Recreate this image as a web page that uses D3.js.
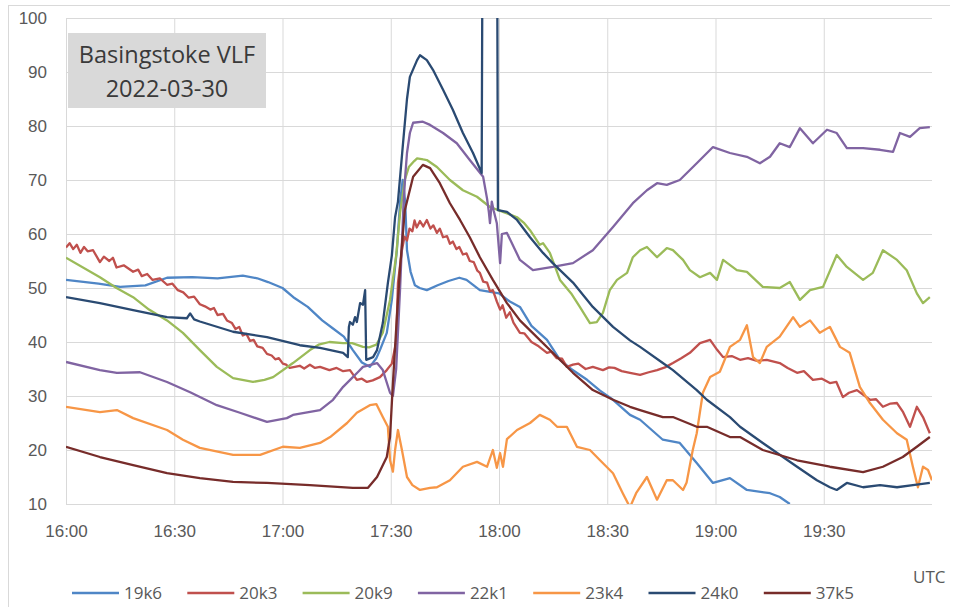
<!DOCTYPE html>
<html lang="en">
<head>
<meta charset="UTF-8">
<title>Basingstoke VLF 2022-03-30</title>
<script src="https://d3js.org/d3.v7.min.js"></script>
<style>
  body { margin: 0; background: #fff; }
  svg { font-family: "Open Sans", Lato, sans-serif; }
  .grid line { stroke: #d9d9d9; stroke-width: 1; }
  .grid path { display: none; }
  .tick text { fill: #595959; font-size: 17px; }
  .series { fill: none; stroke-width: 2.3; stroke-linejoin: round; }
</style>
</head>
<body>
<svg id="chart" width="954" height="607"></svg>
<script>
// minutes after 16:00 UTC, signal value
const s19k6 = [[0,51.5],[9,50.8],[15,50.2],[22,50.5],[28,51.9],[35,52],[42,51.8],[49,52.3],[53,51.8],[56,51.1],[60,50],[63,48.3],[67,46.5],[71,44],[74,42.5],[77,41],[79.5,38.5],[82,36.2],[84.2,35.4],[86,37],[87,38.5],[88.9,41.7],[90.3,47.8],[91.2,53.9],[91.7,57],[92.6,66],[93.3,70],[94,66],[94.5,57],[95.5,53],[96.7,50.5],[98,50],[100,49.6],[103,50.5],[106,51.3],[109,51.9],[111,51.5],[114.7,49.6],[120,49],[123,47.5],[125.8,46.5],[129,43],[133.3,40.4],[136.9,36.7],[140,35],[144.4,33],[148,31],[151.6,29.3],[156.3,26.5],[159.1,25.6],[165.4,21.9],[170.1,21.3],[174.8,17.6],[179.3,13.9],[184,14.8],[188.7,12.6],[195.1,12],[197.8,11.3],[200.6,10]];
const s20k3 = [[0,57.5],[1,58.3],[2,57.2],[3,58],[4,56.5],[5,57.6],[6,56.8],[7.5,57],[9.4,54.8],[10.5,55.8],[12,55],[13,55.6],[14,53.8],[16,54.2],[18.6,53],[20,53.4],[21,52.2],[22.5,52.6],[24,51.5],[26,51.8],[28,50.6],[29.5,50.8],[31,49.6],[32.5,49.2],[34,48.2],[35.5,48.4],[37.1,47],[38.5,46.6],[40,46],[41,46.3],[42,45],[43.5,45.2],[44.6,44],[46,43.5],[47,42.4],[48,42.8],[49,41.2],[50,41.5],[51,40.2],[52,40.4],[53,39.2],[54.5,38.9],[55.7,37.8],[57,37.5],[58,36.8],[59,37],[60.1,36],[61,35.8],[62,35.2],[64.8,35.6],[66,35.1],[67.6,35.8],[69,35.2],[70.4,35.4],[73,34.8],[75,35.2],[76.8,34.6],[78.7,34.8],[80.6,33],[82,33.2],[83.4,32.6],[85,32.9],[87,33.5],[88.9,34.8],[90.3,36],[91.5,40],[92,51],[93.1,57],[93.8,59.5],[94.5,58.8],[95.2,61],[96,60.5],[96.6,62.5],[97.2,61.2],[98.1,62.4],[99,61.4],[100,62.6],[101,61],[101.8,61.6],[102.8,60.2],[103.6,61],[104.5,59.4],[105.6,59.6],[106.4,58.2],[107.2,58.6],[108.2,57.2],[109,57.6],[110,56.2],[111,56.4],[111.9,55],[113,54.8],[114,53.2],[114.7,52.8],[115.6,51.2],[116.7,51],[117.5,49.4],[118.3,49.6],[119.4,47.5],[120.3,46],[121,46.8],[122,44.5],[123,45.5],[124,43.6],[125.8,41.7],[127,41.6],[129,40],[131,39.2],[133.3,38],[134.5,38.2],[136,37],[137.5,36.9],[138.8,35.4],[140.5,35.8],[142,36],[144,35],[146,35.4],[148.8,34.8],[150.5,35.3],[152,35.2],[154,34.6],[156.3,34.3],[159.1,33.9],[161.5,34.4],[163.8,34.8],[166,35.3],[168.2,36.1],[170.5,37],[172.9,38],[175.7,39.8],[178.5,40.4],[180.5,38.5],[182.1,37.2],[184.5,37.4],[186.8,36.7],[189,37],[191.5,36.5],[194.2,36.7],[197.8,36.1],[200,35.2],[202.6,34.3],[204.5,34.6],[207,33],[209.5,33.2],[211.7,32.4],[213.5,32.6],[215.3,29.8],[217,30.6],[219.2,31.1],[222.8,29.3],[224.5,29.4],[226.4,28],[228.5,28.6],[230.3,28.7],[232,27],[233.9,24.3],[235.8,28],[237.5,26.1],[239.4,23.1]];
const s20k9 = [[0,55.6],[9.4,52],[14,50],[18.6,48.3],[23,46],[28,44],[32.4,41.7],[37.1,38.5],[41.8,35.4],[46.3,33.3],[51.8,32.6],[55,33],[57.4,33.5],[62.9,36.1],[67.6,38.5],[70,39.5],[73,40],[76.8,39.8],[79.3,39.8],[82.3,39.1],[84,39],[86,39.5],[87.8,41.7],[89.8,47.8],[91.5,56],[92.6,64],[93.9,70],[95,72.4],[96.5,73.5],[97.3,74],[99,73.8],[100,73.7],[102.8,72.4],[106.4,70],[110,68.1],[113.9,66.9],[117.5,65],[121.1,64.1],[125,63.1],[127,62],[128.6,60.7],[131.3,58],[132.2,58.3],[134.1,56.5],[136.9,51.5],[140,49],[142.4,46.5],[145.2,43.5],[147.1,43.7],[148.8,45.4],[150.7,49.6],[152.7,51.5],[155.5,52.8],[157.1,55.7],[159.1,57],[161,57.6],[163.8,55.7],[166.5,57.4],[168.2,57],[171,55.2],[172.9,53.3],[175.7,52],[178.5,52.8],[180.4,51.5],[182.1,55.2],[185.9,53.3],[188.7,53],[193.1,50.2],[197.8,50],[200.6,51.1],[203.4,47.8],[206.2,49.6],[209.8,50.2],[213.6,56.1],[216.4,53.9],[220.9,51.5],[223.6,52.8],[226.4,57],[230.3,55.2],[233,53.3],[235.8,49],[237.5,47.2],[239.4,48.3]];
const s22k1 = [[0,36.3],[9.4,34.8],[14.1,34.3],[20.5,34.4],[28,32.6],[34.4,30.7],[41.8,28.3],[48.2,26.9],[55.7,25.2],[61.2,25.9],[62.9,26.5],[70.4,27.4],[74,29.3],[76.8,31.7],[79.5,33.5],[81,34.5],[82.3,35.4],[86.2,36.1],[87.8,34.8],[89.8,30.6],[90.6,30],[91.5,35],[92.6,50],[93.5,65],[94,70.6],[94.5,75],[95.3,78.7],[96.2,80.6],[98.9,80.8],[100.9,80.2],[104.5,78.7],[108.3,76.8],[111.9,73.7],[115.6,70.6],[116.7,66.5],[117.2,64],[117.5,62],[118,66],[118.5,64.4],[119.4,62],[120.3,54.6],[120.8,60],[122.2,60.2],[125.8,55.2],[129.4,53.3],[134.9,53.9],[140.5,54.6],[146,57],[151.6,61.3],[157.1,65.7],[161,68.1],[163.8,69.4],[166.5,69.1],[170.1,70],[174.8,73.1],[179.3,76.1],[184,75],[188.7,74.3],[192.3,73.1],[195.1,74.3],[197.8,76.8],[200.6,76.1],[203.4,79.6],[207,76.8],[210.9,79.3],[213.6,78.7],[216.4,75.9],[220.9,75.9],[225.6,75.6],[229.2,75.2],[231.1,78.7],[233.9,78],[236.6,79.6],[239.4,79.8]];
const s23k4 = [[0,28],[9.4,27],[14.1,27.4],[18.6,25.9],[28,23.7],[32.4,21.9],[37.1,20.4],[46.3,19.1],[53.8,19.1],[60.1,20.6],[64.8,20.4],[70.4,21.3],[73.2,22.4],[77.9,25],[80.6,26.9],[84.2,28.3],[86,28.5],[87.8,26.1],[89.2,24.3],[89.8,18.1],[90.6,16],[91.2,20],[92,23.7],[92.5,22],[93.1,20],[94.5,15],[96,13.5],[98.1,12.6],[100.9,13],[102.8,13.1],[106.4,14.4],[110,16.9],[113.9,17.8],[116.7,16.9],[118.3,20],[119.4,16.7],[120.3,19.4],[121.1,16.9],[122.2,22],[125,23.7],[128.6,25],[131.3,26.5],[134.1,25.6],[136.1,24.3],[138.8,24.3],[141.6,20.6],[145.2,20],[148,18.1],[151.6,15.7],[154.3,12],[156.3,9.4],[158,12],[161,15],[163.8,10.8],[166.5,14.4],[168.2,14.4],[171,12.6],[172,14],[173.7,20],[174.8,23.1],[176.5,30.6],[178.5,33.5],[181.2,34.5],[184,39.1],[186.8,40.4],[188.7,43.1],[190.4,37.2],[192.3,36.1],[194.2,39.1],[197.8,41],[201.5,44.6],[203.4,42.8],[206.2,44],[208.9,41.7],[211.7,42.8],[214.5,39.1],[217.2,38],[220,31.7],[222.8,28.7],[226.4,25.6],[230.3,23.1],[233,21.9],[234.7,16.9],[236.1,13.1],[237.5,16.9],[238.9,16.3],[240,14.4]];
const s24k0 = [[0,48.3],[9.4,47.2],[18.6,45.9],[28,44.6],[33.5,44.4],[34.4,45.3],[35.5,44.2],[37.1,43.8],[46.3,41.9],[55.7,40.9],[64.8,39.4],[70.4,38.9],[76.8,38],[78.1,37.2],[78.4,42.8],[78.7,43.7],[79.5,43.2],[80.1,44.6],[80.6,43.7],[81.5,47.2],[82.3,46.9],[82.9,49.6],[83.2,36.7],[85.1,37.2],[86.2,38.5],[87.8,43.5],[89.2,50.9],[90.3,56],[91.2,63.1],[92,66],[93.4,76.8],[94.5,85],[95.3,89.1],[97.3,92.2],[98.1,93.1],[100,92.2],[101.7,90.4],[104.5,86.7],[107.2,83],[110,78.7],[112.8,75],[115.2,71.3],[115.4,110],[119.5,110],[119.7,64.4],[122.2,64.1],[125,62.6],[128.6,59.4],[132.2,56.5],[134.9,54.6],[140.5,51],[146,46.5],[151.6,42.8],[156.3,40.3],[159.1,39.1],[165.4,36.1],[168.2,34.8],[174.8,31.1],[177.6,29.3],[184,26.1],[186.8,24.3],[193.1,21.3],[202.6,16.9],[208.1,14.4],[211.7,13.1],[213.6,12.6],[216.4,13.9],[220.9,13.1],[225.6,13.5],[230.3,13.1],[234.7,13.5],[239.4,13.9]];
const s37k5 = [[0,20.6],[9.4,18.7],[18.6,17.2],[28,15.7],[37.1,14.8],[46.3,14.1],[55.7,13.9],[67.6,13.5],[79.5,13],[82.3,13],[83.7,13],[86.2,15],[88.9,18.7],[89.8,22.4],[90.6,32.4],[91.7,44.6],[92.6,53.9],[93.9,64.4],[96.2,70.6],[98.9,72.8],[100.9,72.2],[103.6,69.4],[106.4,65.7],[109.2,62.6],[111.9,59.4],[114.7,55.7],[118.3,51.5],[122.2,47.2],[125.8,44],[130.5,40.9],[134.9,38],[140.5,34.3],[146,31.1],[151.6,29.3],[156.3,28],[159.1,27.4],[165.4,26.1],[168.2,26.1],[174.8,24.3],[177.6,24.3],[184,22.4],[186.8,22.4],[193.1,20],[202.6,18.1],[211.7,16.9],[220.9,15.9],[226.4,16.9],[231.9,18.7],[235.8,20.6],[239.4,22.4]];

const seriesNames = ["19k6", "20k3", "20k9", "22k1", "23k4", "24k0", "37k5"];
const seriesData = [s19k6, s20k3, s20k9, s22k1, s23k4, s24k0, s37k5];
const seriesColors = ["#4f86c6", "#c0504d", "#9bbb59", "#8064a2", "#f79646", "#2a4a72", "#772c2a"];

const xTicks = [0, 30, 60, 90, 120, 150, 180, 210];
const xTickLabels = ["16:00", "16:30", "17:00", "17:30", "18:00", "18:30", "19:00", "19:30"];
const yTicks = [10, 20, 30, 40, 50, 60, 70, 80, 90, 100];
const titleLines = ["Basingstoke VLF", "2022-03-30"];

const svg = d3.select("#chart");
const plotLeft = 66, plotRight = 932, plotTop = 18, plotBottom = 504;

const x = d3.scaleLinear().domain([0, 240]).range([plotLeft, plotRight]);
const y = d3.scaleLinear().domain([10, 100]).range([plotBottom, plotTop]);

// chart frame (top and left edges visible)
svg.append("line").attr("x1", 8).attr("x2", 950).attr("y1", 5.5).attr("y2", 5.5)
  .attr("stroke", "#d9d9d9");
svg.append("line").attr("x1", 8.5).attr("x2", 8.5).attr("y1", 5).attr("y2", 607)
  .attr("stroke", "#d9d9d9");

// horizontal grid + y labels
svg.append("g").attr("class", "grid")
  .attr("transform", `translate(${plotLeft},0)`)
  .call(d3.axisLeft(y).tickValues(yTicks).tickSize(-(plotRight - plotLeft)).tickPadding(19));

// vertical grid + x labels
svg.append("g").attr("class", "grid")
  .attr("transform", `translate(0,${plotBottom})`)
  .call(d3.axisBottom(x).tickValues(xTicks).tickSize(-(plotBottom - plotTop))
    .tickFormat((d, i) => xTickLabels[i]).tickPadding(21));

svg.append("clipPath").attr("id", "plot")
  .append("rect").attr("x", plotLeft).attr("y", plotTop)
  .attr("width", plotRight - plotLeft).attr("height", plotBottom - plotTop);

const line = d3.line().x(d => x(d[0])).y(d => y(d[1]));

svg.append("g").attr("clip-path", "url(#plot)")
  .selectAll("path")
  .data(seriesData)
  .join("path")
  .attr("class", "series")
  .attr("stroke", (d, i) => seriesColors[i])
  .attr("d", line);

// title box
const tb = svg.append("g");
tb.append("rect").attr("x", 68).attr("y", 33).attr("width", 198).attr("height", 75).attr("fill", "#d9d9d9");
tb.selectAll("text").data(titleLines).join("text")
  .attr("x", 167).attr("y", (d, i) => 63 + i * 34)
  .attr("text-anchor", "middle")
  .attr("font-size", 23.5)
  .attr("fill", "#3a3a3a")
  .text(d => d);

// legend
const legend = svg.append("g").attr("transform", "translate(72,593)");
const item = legend.selectAll("g").data(seriesNames).join("g")
  .attr("transform", (d, i) => `translate(${i * 115.3},0)`);
item.append("line").attr("x1", 0).attr("x2", 47).attr("y1", 0).attr("y2", 0)
  .attr("stroke", (d, i) => seriesColors[i]).attr("stroke-width", 2.3);
item.append("text").attr("x", 52).attr("y", 6)
  .attr("font-size", 17).attr("fill", "#595959").text(d => d);

svg.append("text").attr("x", 913).attr("y", 583)
  .attr("font-size", 17).attr("fill", "#595959").text("UTC");
</script>
</body>
</html>
